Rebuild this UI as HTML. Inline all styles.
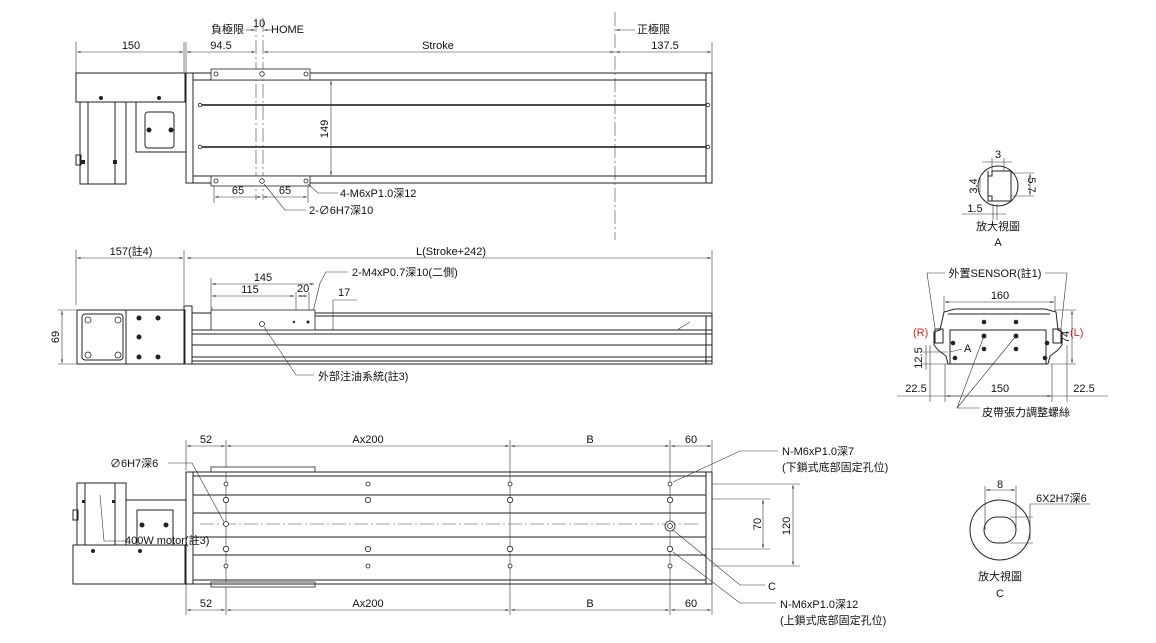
<!DOCTYPE html>
<html><head><meta charset="utf-8"><style>
body{margin:0;background:#fff}
svg{display:block}
text{font-family:"Liberation Sans","Noto Sans CJK TC",sans-serif;font-size:11px;fill:#111}
.l{stroke:#222;stroke-width:1;fill:none}
.t{stroke:#333;stroke-width:.6;fill:none}
.d{stroke:#444;stroke-width:.6;fill:none;stroke-dasharray:14 3 2 3}
.h{stroke:#222;stroke-width:.8;fill:#fff}
.b{fill:#222}
</style></head><body>
<svg width="1156" height="643" viewBox="0 0 1156 643">
<defs><marker id="a" markerWidth="6" markerHeight="6" refX="6" refY="3" orient="auto-start-reverse"><path d="M0,1.5 L6,3 L0,4.5z" fill="#222"/></marker></defs>

<!-- ===== TOP VIEW ===== -->
<g>
<line class="t" x1="76" y1="42" x2="76" y2="73"/><line class="t" x1="184" y1="42" x2="184" y2="73"/>
<line class="t" x1="186" y1="42" x2="186" y2="73"/><line class="t" x1="712" y1="42" x2="712" y2="73"/>
<line class="t" x1="77" y1="52" x2="183" y2="52" marker-start="url(#a)" marker-end="url(#a)"/>
<line class="t" x1="187" y1="52" x2="255" y2="52" marker-start="url(#a)" marker-end="url(#a)"/>
<line class="t" x1="264" y1="52" x2="614" y2="52" marker-start="url(#a)" marker-end="url(#a)"/>
<line class="t" x1="616" y1="52" x2="711" y2="52" marker-start="url(#a)" marker-end="url(#a)"/>
<text x="131" y="49" text-anchor="middle">150</text>
<text x="221" y="49" text-anchor="middle">94.5</text>
<text x="438" y="49" text-anchor="middle">Stroke</text>
<text x="665" y="49" text-anchor="middle">137.5</text>
<text x="211" y="33">負極限</text><text x="253" y="27" font-size="10">10</text><text x="271" y="33">HOME</text>
<line class="t" x1="246" y1="30" x2="255" y2="30" marker-end="url(#a)"/><line class="t" x1="272" y1="30" x2="264" y2="30" marker-end="url(#a)"/>
<text x="637" y="33">正極限</text><line class="t" x1="635" y1="30" x2="616" y2="30" marker-end="url(#a)"/>
<line class="d" x1="256" y1="18" x2="256" y2="200"/><line class="d" x1="263" y1="18" x2="263" y2="200"/>
<line class="d" x1="615" y1="12" x2="615" y2="240"/>
<!-- body -->
<rect class="l" x="186" y="73" width="526" height="110"/>
<line class="l" x1="193" y1="73" x2="193" y2="183"/><line class="l" x1="706" y1="73" x2="706" y2="183"/>
<line class="l" x1="193" y1="80" x2="706" y2="80"/><line class="l" x1="193" y1="176" x2="706" y2="176"/>
<line stroke="#111" stroke-width="1.5" x1="198" y1="105" x2="708" y2="105"/>
<line stroke="#111" stroke-width="1.5" x1="198" y1="147" x2="708" y2="147"/>
<circle class="h" cx="200" cy="105" r="1.8"/><circle class="h" cx="708" cy="105" r="1.8"/>
<circle class="h" cx="200" cy="147" r="1.8"/><circle class="h" cx="708" cy="147" r="1.8"/>
<rect class="h" x="211" y="69" width="99" height="11"/><rect class="h" x="211" y="176" width="99" height="10"/>
<circle class="h" cx="216" cy="74" r="2"/><circle class="h" cx="262" cy="74" r="2.3"/><circle class="h" cx="306" cy="74" r="2"/>
<circle class="h" cx="216" cy="181" r="2"/><circle class="h" cx="262" cy="181" r="2.3"/><circle class="h" cx="306" cy="181" r="2"/>
<line class="t" x1="331" y1="81" x2="331" y2="175" marker-start="url(#a)" marker-end="url(#a)"/>
<text x="0" y="0" transform="translate(328,129) rotate(-90)" text-anchor="middle">149</text>
<!-- motor -->
<rect class="l" x="76" y="73" width="109" height="29"/>
<circle class="b" cx="101" cy="98" r="2"/><circle class="b" cx="159" cy="98" r="2"/>
<rect class="l" x="80" y="102" width="46" height="82"/>
<line class="l" x1="88" y1="102" x2="88" y2="184"/><line class="l" x1="115" y1="102" x2="115" y2="184"/>
<line class="l" x1="126" y1="102" x2="126" y2="184"/>
<rect class="l" x="76" y="155" width="5" height="10"/>
<rect class="b" x="81" y="160" width="4" height="4"/><rect class="b" x="113" y="160" width="4" height="4"/>
<rect class="l" x="136" y="102" width="50" height="50"/>
<rect class="l" x="145" y="112" width="29" height="36" rx="3"/>
<circle class="b" cx="149" cy="130" r="2.5"/><circle class="b" cx="171" cy="130" r="2.5"/>
<line class="t" x1="214" y1="186" x2="214" y2="203"/><line class="t" x1="308" y1="186" x2="308" y2="203"/>
<line class="t" x1="215" y1="197" x2="261" y2="197" marker-start="url(#a)" marker-end="url(#a)"/>
<line class="t" x1="263" y1="197" x2="307" y2="197" marker-start="url(#a)" marker-end="url(#a)"/>
<text x="238" y="194" text-anchor="middle">65</text><text x="285" y="194" text-anchor="middle">65</text>
<polyline class="t" points="308,184 318,193 338,193"/><text x="340" y="197">4-M6xP1.0深12</text>
<polyline class="t" points="264,184 285,210 306,210"/><text x="309" y="214">2-∅6H7深10</text>
</g>

<!-- ===== SIDE VIEW ===== -->
<g>
<line class="t" x1="76" y1="250" x2="76" y2="305"/><line class="t" x1="184" y1="250" x2="184" y2="305"/>
<line class="t" x1="712" y1="250" x2="712" y2="312"/>
<line class="t" x1="77" y1="258" x2="183" y2="258" marker-start="url(#a)" marker-end="url(#a)"/>
<line class="t" x1="187" y1="258" x2="711" y2="258" marker-start="url(#a)" marker-end="url(#a)"/>
<text x="131" y="255" text-anchor="middle">157(註4)</text>
<text x="451" y="255" text-anchor="middle">L(Stroke+242)</text>
<line class="t" x1="211" y1="278" x2="211" y2="309"/>
<line class="t" x1="212" y1="284" x2="314" y2="284" marker-start="url(#a)" marker-end="url(#a)"/>
<line class="t" x1="212" y1="307" x2="212" y2="310"/>
<line class="t" x1="212" y1="296" x2="294" y2="296" marker-start="url(#a)" marker-end="url(#a)"/>
<line class="t" x1="296" y1="292" x2="296" y2="320"/><line class="t" x1="309" y1="292" x2="309" y2="320"/>
<line class="t" x1="298" y1="296" x2="307" y2="296" marker-start="url(#a)" marker-end="url(#a)"/>
<text x="263" y="281" text-anchor="middle">145</text><text x="250" y="293" text-anchor="middle">115</text><text x="297" y="292" font-size="10">20</text>
<line class="t" x1="333" y1="300" x2="357" y2="300"/><text x="338" y="296" font-size="10">17</text>
<line class="t" x1="333" y1="300" x2="333" y2="330"/>
<polyline class="t" points="311,320 320,283 326,272 348,272"/><text x="352" y="276">2-M4xP0.7深10(二側)</text>
<!-- body -->
<rect class="l" x="77" y="310" width="108" height="54"/>
<line class="l" x1="126" y1="310" x2="126" y2="364"/>
<rect class="l" x="82" y="314" width="41" height="46" rx="3"/>
<circle class="h" cx="88" cy="320" r="3"/><circle class="h" cx="118" cy="320" r="3"/><circle class="h" cx="88" cy="355" r="3"/><circle class="h" cx="118" cy="355" r="3"/>
<circle class="b" cx="139" cy="318" r="2.5"/><circle class="b" cx="158" cy="318" r="2.5"/><circle class="b" cx="139" cy="337" r="2.5"/><circle class="b" cx="139" cy="357" r="2.5"/><circle class="b" cx="158" cy="357" r="2.5"/>
<rect class="l" x="184" y="306" width="8" height="58"/>
<rect class="l" x="192" y="313" width="520" height="51"/>
<line class="l" x1="211" y1="316" x2="712" y2="316"/><line class="l" x1="192" y1="330" x2="712" y2="330"/>
<line class="l" x1="192" y1="334" x2="712" y2="334"/><line class="l" x1="192" y1="345" x2="712" y2="345"/>
<line class="l" x1="192" y1="357" x2="712" y2="357"/><line class="l" x1="192" y1="361" x2="712" y2="361"/>
<line class="l" x1="706" y1="316" x2="706" y2="364"/>
<rect class="h" x="211" y="310" width="104" height="20"/>
<circle class="h" cx="262" cy="324" r="2.5"/><circle class="b" cx="294" cy="322" r="1.2"/><circle class="b" cx="308" cy="322" r="1.5"/>
<polyline class="t" points="677,330 690,322"/>
<line class="t" x1="62" y1="311" x2="62" y2="363" marker-start="url(#a)" marker-end="url(#a)"/>
<line class="t" x1="58" y1="310" x2="76" y2="310"/><line class="t" x1="58" y1="364" x2="76" y2="364"/>
<text x="0" y="0" transform="translate(59,337) rotate(-90)" text-anchor="middle">69</text>
<polyline class="t" points="264,327 296,375 314,375"/><text x="318" y="380">外部注油系統(註3)</text>
</g>

<!-- ===== BOTTOM VIEW ===== -->
<g>
<line class="t" x1="186" y1="440" x2="186" y2="470"/><line class="t" x1="226" y1="440" x2="226" y2="615"/>
<line class="t" x1="510" y1="440" x2="510" y2="615"/><line class="t" x1="670" y1="440" x2="670" y2="615"/>
<line class="t" x1="712" y1="440" x2="712" y2="615"/><line class="t" x1="186" y1="584" x2="186" y2="615"/>
<line class="t" x1="187" y1="446" x2="225" y2="446" marker-start="url(#a)" marker-end="url(#a)"/>
<line class="t" x1="227" y1="446" x2="509" y2="446" marker-start="url(#a)" marker-end="url(#a)"/>
<line class="t" x1="511" y1="446" x2="669" y2="446" marker-start="url(#a)" marker-end="url(#a)"/>
<line class="t" x1="671" y1="446" x2="711" y2="446" marker-start="url(#a)" marker-end="url(#a)"/>
<line class="t" x1="187" y1="610" x2="225" y2="610" marker-start="url(#a)" marker-end="url(#a)"/>
<line class="t" x1="227" y1="610" x2="509" y2="610" marker-start="url(#a)" marker-end="url(#a)"/>
<line class="t" x1="511" y1="610" x2="669" y2="610" marker-start="url(#a)" marker-end="url(#a)"/>
<line class="t" x1="671" y1="610" x2="711" y2="610" marker-start="url(#a)" marker-end="url(#a)"/>
<text x="206" y="443" text-anchor="middle">52</text><text x="368" y="443" text-anchor="middle">Ax200</text><text x="590" y="443" text-anchor="middle">B</text><text x="691" y="443" text-anchor="middle">60</text>
<text x="206" y="607" text-anchor="middle">52</text><text x="368" y="607" text-anchor="middle">Ax200</text><text x="590" y="607" text-anchor="middle">B</text><text x="691" y="607" text-anchor="middle">60</text>
<rect class="h" x="211" y="467" width="104" height="5"/><rect class="h" x="211" y="582" width="104" height="5"/>
<rect class="l" x="186" y="472" width="526" height="112"/>
<line class="l" x1="193" y1="472" x2="193" y2="584"/><line class="l" x1="706" y1="472" x2="706" y2="584"/>
<line class="l" x1="193" y1="476" x2="706" y2="476"/><line class="l" x1="193" y1="580" x2="706" y2="580"/>
<line class="l" x1="193" y1="495" x2="706" y2="495"/><line class="l" x1="193" y1="513" x2="706" y2="513"/>
<line class="l" x1="193" y1="537" x2="706" y2="537"/><line class="l" x1="193" y1="555" x2="706" y2="555"/>
<line class="d" x1="200" y1="524" x2="700" y2="524"/>
<g class="h">
<circle cx="226" cy="484" r="2"/><circle cx="368" cy="484" r="2"/><circle cx="510" cy="484" r="2"/><circle cx="670" cy="484" r="2"/>
<circle cx="226" cy="500" r="2.7"/><circle cx="368" cy="500" r="2.7"/><circle cx="510" cy="500" r="2.7"/><circle cx="670" cy="500" r="2.7"/>
<circle cx="226" cy="524" r="2.5"/><circle cx="670" cy="526" r="5"/><circle cx="670" cy="526" r="2.5"/>
<circle cx="226" cy="549" r="2.7"/><circle cx="368" cy="549" r="2.7"/><circle cx="510" cy="549" r="2.7"/><circle cx="670" cy="549" r="2.7"/>
<circle cx="226" cy="566" r="2"/><circle cx="368" cy="566" r="2"/><circle cx="510" cy="566" r="2"/><circle cx="670" cy="566" r="2"/>
</g>
<!-- motor -->
<rect class="l" x="77" y="483" width="49" height="62"/>
<line class="l" x1="85" y1="483" x2="85" y2="545"/><line class="l" x1="115" y1="483" x2="115" y2="545"/>
<rect class="l" x="73" y="510" width="5" height="10"/>
<rect class="b" x="82" y="500" width="3" height="3"/><rect class="b" x="112" y="500" width="3" height="3"/>
<rect class="l" x="73" y="545" width="112" height="39"/>
<circle class="b" cx="93" cy="551" r="2"/><circle class="b" cx="140" cy="551" r="2"/>
<rect class="l" x="126" y="500" width="60" height="45"/>
<rect class="l" x="137" y="510" width="36" height="35"/>
<circle class="b" cx="142" cy="525" r="2.5"/><circle class="b" cx="166" cy="525" r="2.5"/>
<polyline class="t" points="168,463 192,463 224,522"/><text x="110" y="467">∅6H7深6</text>
<polyline class="t" points="100,495 104,541 126,541"/><text x="125" y="544">400W motor(註3)</text>
<line class="t" x1="712" y1="484" x2="800" y2="484"/><line class="t" x1="712" y1="566" x2="800" y2="566"/>
<line class="t" x1="712" y1="499" x2="770" y2="499"/><line class="t" x1="712" y1="549" x2="770" y2="549"/>
<line class="t" x1="763" y1="500" x2="763" y2="548" marker-start="url(#a)" marker-end="url(#a)"/>
<line class="t" x1="793" y1="485" x2="793" y2="565" marker-start="url(#a)" marker-end="url(#a)"/>
<text x="0" y="0" transform="translate(761,524) rotate(-90)" text-anchor="middle">70</text>
<text x="0" y="0" transform="translate(790,526) rotate(-90)" text-anchor="middle">120</text>
<polyline class="t" points="673,482 740,451 778,451"/><text x="782" y="455">N-M6xP1.0深7</text><text x="782" y="471">(下鎖式底部固定孔位)</text>
<polyline class="t" points="673,530 740,585 765,585"/><text x="768" y="590">C</text>
<polyline class="t" points="673,552 740,603 776,603"/><text x="780" y="608">N-M6xP1.0深12</text><text x="780" y="624">(上鎖式底部固定孔位)</text>
</g>

<!-- ===== DETAIL A ===== -->
<g>
<circle class="l" cx="998" cy="186" r="20"/>
<path class="l" d="M988,171 V201 H992 V196 H988 M988,176 H992 V171 H1011 V201 H992"/>
<line class="t" x1="992" y1="158" x2="992" y2="171"/><line class="t" x1="1004" y1="158" x2="1004" y2="171"/>
<line class="t" x1="982" y1="162" x2="1012" y2="162"/><text x="998" y="158" text-anchor="middle" font-size="10">3</text>
<line class="t" x1="1011" y1="173" x2="1034" y2="173"/><line class="t" x1="1011" y1="196" x2="1034" y2="196"/>
<line class="t" x1="1030" y1="174" x2="1030" y2="195" marker-start="url(#a)" marker-end="url(#a)"/>
<text x="0" y="0" transform="translate(1028,185) rotate(90)" text-anchor="middle" font-size="10">5.7</text>
<line class="t" x1="980" y1="178" x2="980" y2="192"/>
<text x="0" y="0" transform="translate(977,186) rotate(-90)" text-anchor="middle" font-size="10">3.4</text>
<line class="t" x1="993" y1="204" x2="993" y2="220"/><line class="t" x1="997" y1="204" x2="997" y2="220"/>
<line class="t" x1="962" y1="214" x2="1006" y2="214"/><text x="975" y="212" text-anchor="middle" font-size="10">1.5</text>
<text x="998" y="230" text-anchor="middle">放大視圖</text><text x="998" y="246" text-anchor="middle">A</text>
</g>

<!-- ===== END VIEW ===== -->
<g>
<text x="995" y="277" text-anchor="middle">外置SENSOR(註1)</text>
<polyline class="t" points="945,273 927,273 935,328"/><polyline class="t" points="1045,273 1067,273 1061,328"/>
<line class="t" x1="944" y1="296" x2="944" y2="312"/><line class="t" x1="1055" y1="296" x2="1055" y2="312"/>
<line class="t" x1="945" y1="302" x2="1054" y2="302" marker-start="url(#a)" marker-end="url(#a)"/>
<text x="1000" y="299" text-anchor="middle">160</text>
<path class="l" d="M944,312 L955,309 L1045,309 L1056,312 L1058,330 L1062,332 L1062,345 L1058,350 L1050,356 L1048,364 L948,364 L946,356 L938,350 L934,345 L934,332 L940,330 Z"/>
<line class="l" x1="948" y1="314" x2="1050" y2="314"/>
<rect class="l" x="950" y="330" width="96" height="34"/>
<g class="b"><circle cx="984" cy="322" r="2.3"/><circle cx="1016" cy="322" r="2.3"/><circle cx="984" cy="336" r="2.5"/><circle cx="1016" cy="336" r="2.5"/><circle cx="984" cy="349" r="2.3"/><circle cx="1016" cy="349" r="2.3"/><circle cx="953" cy="343" r="2.3"/><circle cx="1047" cy="343" r="2.3"/><circle cx="955" cy="358" r="2.3"/><circle cx="1045" cy="358" r="2.3"/></g>
<rect class="l" x="935" y="329" width="8" height="14"/><rect class="l" x="1053" y="329" width="8" height="14"/>
<text x="913" y="336" font-size="11" fill="#d22" style="fill:#d22">(R)</text>
<text x="1070" y="336" font-size="11" style="fill:#d22">(L)</text>
<line class="t" x1="1055" y1="310" x2="1076" y2="310"/><line class="t" x1="1050" y1="364" x2="1076" y2="364"/>
<line class="t" x1="1072" y1="311" x2="1072" y2="363" marker-start="url(#a)" marker-end="url(#a)"/>
<text x="0" y="0" transform="translate(1069,337) rotate(-90)" text-anchor="middle">74</text>
<line class="t" x1="922" y1="352" x2="948" y2="352"/><line class="t" x1="922" y1="364" x2="948" y2="364"/>
<line class="t" x1="926" y1="345" x2="926" y2="370"/>
<text x="0" y="0" transform="translate(922,358) rotate(-90)" text-anchor="middle" font-size="10">12.5</text>
<polyline class="t" points="950,352 962,349"/><text x="964" y="352">A</text>
<line class="t" x1="930" y1="345" x2="930" y2="402"/><line class="t" x1="945" y1="364" x2="945" y2="402"/>
<line class="t" x1="1052" y1="364" x2="1052" y2="402"/><line class="t" x1="1067" y1="345" x2="1067" y2="402"/>
<line class="t" x1="897" y1="396" x2="1108" y2="396"/>
<line class="t" x1="946" y1="396" x2="1051" y2="396" marker-start="url(#a)" marker-end="url(#a)"/>
<text x="916" y="392" text-anchor="middle">22.5</text><text x="1000" y="392" text-anchor="middle">150</text><text x="1084" y="392" text-anchor="middle">22.5</text>
<polyline class="t" points="984,336 957,408 1016,336"/><line class="t" x1="957" y1="408" x2="980" y2="408"/>
<text x="982" y="416">皮帶張力調整螺絲</text>
</g>

<!-- ===== DETAIL C ===== -->
<g>
<circle class="l" cx="1000" cy="530" r="30"/>
<rect class="l" x="984" y="517" width="32" height="26" rx="13"/>
<line class="t" x1="985" y1="486" x2="985" y2="530"/><line class="t" x1="1016" y1="486" x2="1016" y2="530"/>
<line class="t" x1="986" y1="490" x2="1015" y2="490" marker-start="url(#a)" marker-end="url(#a)"/>
<text x="1000" y="488" text-anchor="middle">8</text>
<line class="t" x1="1010" y1="517" x2="1033" y2="517"/><line class="t" x1="1010" y1="543" x2="1033" y2="543"/>
<polyline class="t" points="1030,540 1030,504 1090,504"/>
<text x="1036" y="502">6X2H7深6</text>
<text x="1000" y="580" text-anchor="middle">放大視圖</text><text x="1000" y="597" text-anchor="middle">C</text>
</g>
</svg>
</body></html>
